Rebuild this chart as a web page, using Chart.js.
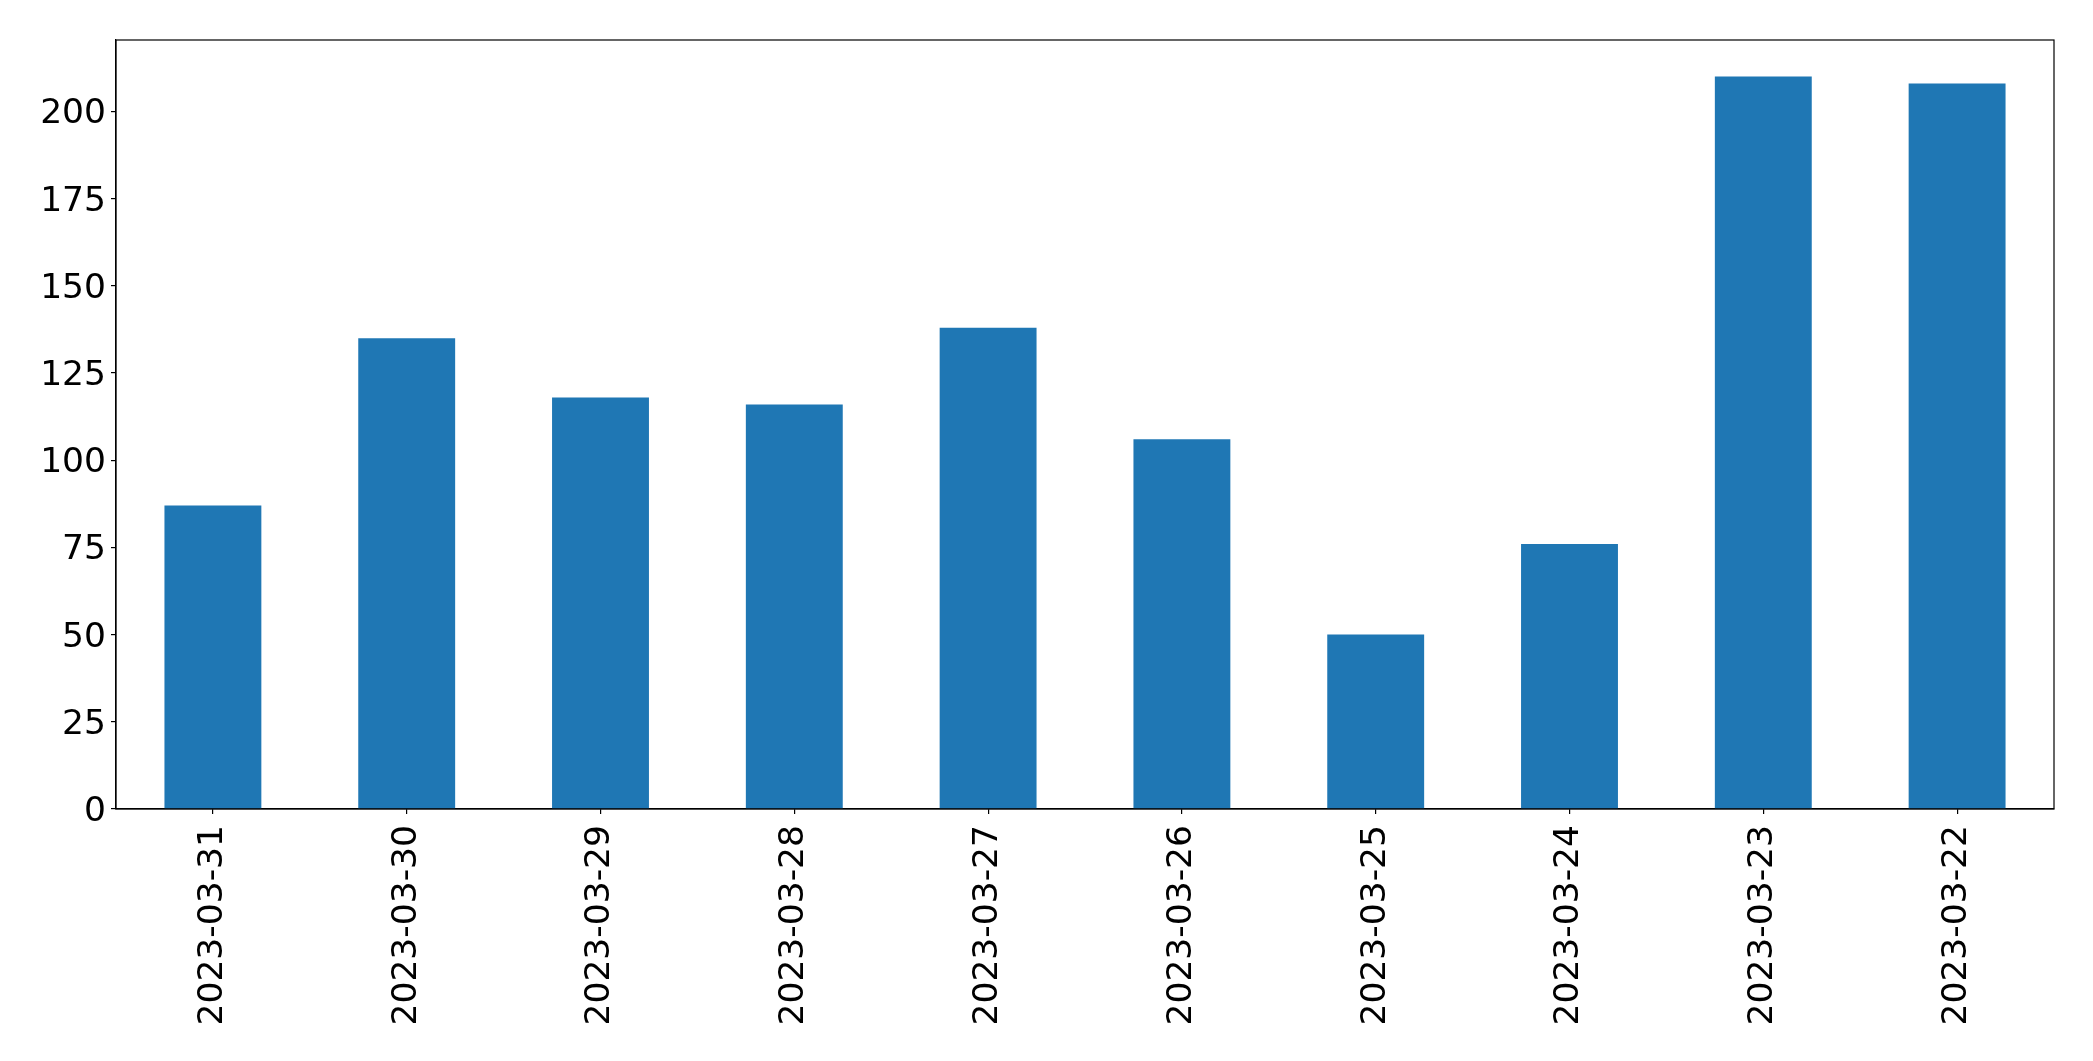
<!DOCTYPE html>
<html>
<head>
<meta charset="utf-8">
<script src="https://cdn.jsdelivr.net/npm/chart.js@4"></script>
<style>
html,body{margin:0;padding:0;background:#fff;}
#wrap{width:2093px;height:1061px;}
</style>
</head>
<body>
<div id="wrap"><canvas id="c" width="2093" height="1061"></canvas></div>
<script>
const categories = ["2023-03-31","2023-03-30","2023-03-29","2023-03-28","2023-03-27","2023-03-26","2023-03-25","2023-03-24","2023-03-23","2023-03-22"];
const values = [87, 135, 118, 116, 138, 106, 50, 76, 210, 208];
const yTicks = [0, 25, 50, 75, 100, 125, 150, 175, 200];

const frame = {
  id: 'frame',
  afterDraw(chart) {
    const a = chart.chartArea, ctx = chart.ctx;
    ctx.save();
    ctx.strokeStyle = '#000';
    ctx.lineWidth = 1.2;
    ctx.strokeRect(a.left, a.top, a.right - a.left, a.bottom - a.top);
    ctx.restore();
  }
};

new Chart(document.getElementById('c'), {
  type: 'bar',
  data: {
    labels: categories,
    datasets: [{
      data: values,
      backgroundColor: '#1f77b4',
      borderWidth: 0,
      barPercentage: 0.5,
      categoryPercentage: 1.0
    }]
  },
  options: {
    responsive: false,
    animation: false,
    layout: { padding: { top: 40, right: 39, left: 0, bottom: 0 } },
    plugins: { legend: { display: false }, tooltip: { enabled: false } },
    scales: {
      x: {
        grid: { offset: false, drawOnChartArea: false, drawTicks: true, tickLength: 5, color: '#000', lineWidth: 1.2 },
        border: { display: true, color: '#000', width: 1.2 },
        ticks: {
          color: '#000',
          font: { family: 'DejaVu Sans', size: 34.5 },
          minRotation: 90, maxRotation: 90,
          padding: 11,
          autoSkip: false
        },
        afterFit(s) { s.height = 252; }
      },
      y: {
        min: 0, max: 220.5,
        grid: { drawOnChartArea: false, drawTicks: true, tickLength: 5, color: '#000', lineWidth: 1.2 },
        border: { display: true, color: '#000', width: 1.2 },
        ticks: {
          color: '#000',
          font: { family: 'DejaVu Sans', size: 34.5 },
          stepSize: 25,
          padding: 5,
          labelOffset: 3
        },
        afterBuildTicks(s) { s.ticks = yTicks.map(v => ({ value: v })); },
        afterFit(s) { s.width = 116; }
      }
    }
  },
  plugins: [frame]
});
</script>
</body>
</html>
